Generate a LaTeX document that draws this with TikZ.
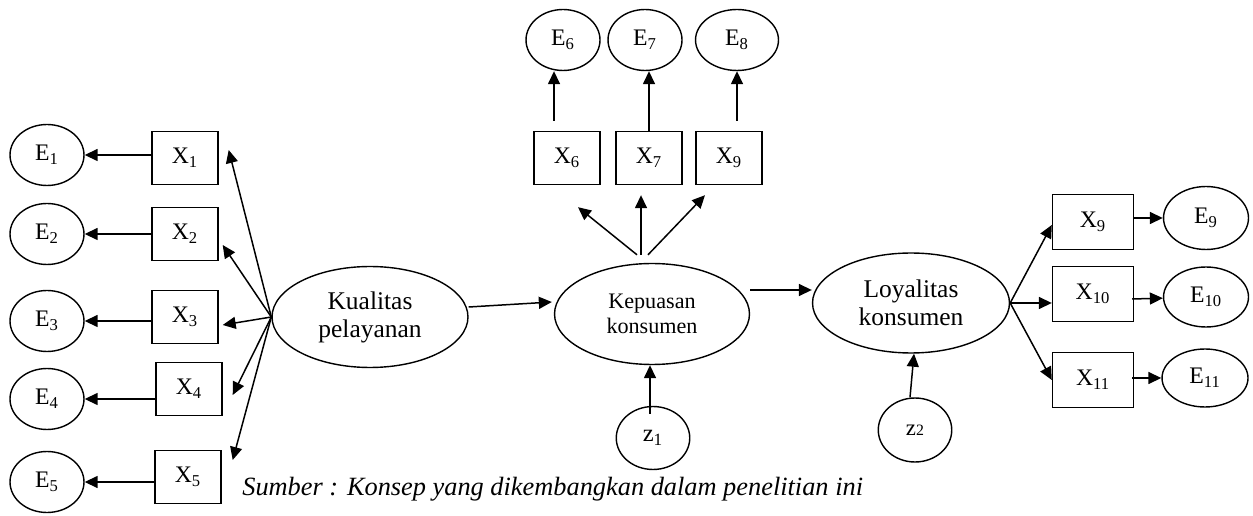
\documentclass[tikz,border=0pt]{standalone}
\usepackage{fontspec}
\setmainfont{Liberation Serif}
\usepackage{tikz}
\usetikzlibrary{shapes.geometric, calc, positioning}
\usetikzlibrary{arrows.meta}
\tikzset{>=stealth}

\begin{document}
\begin{tikzpicture}[x=0.02cm, y=-0.02cm,
		err/.style={draw, ellipse, line width=0.8pt, minimum width=1.48cm, minimum height=1.22cm, inner sep=0pt, font=\fontsize{13.5}{15}\selectfont},
		ind/.style={draw, rectangle, line width=0.8pt, minimum width=1.32cm, minimum height=1.06cm, inner sep=0pt, font=\fontsize{13.5}{15}\selectfont},
		lat/.style={draw, ellipse, line width=0.8pt, minimum width=3.92cm, minimum height=2.02cm, inner sep=0pt, align=center, font=\fontsize{14.5}{16}\selectfont},
		dist/.style={draw, ellipse, line width=0.8pt, minimum width=1.47cm, minimum height=1.26cm, inner sep=0pt, font=\fontsize{14}{16}\selectfont},
		arr/.style={-{Triangle[length=0.26cm,width=0.24cm]}, line width=0.85pt}]
			\useasboundingbox (0,0) rectangle (1253,516);
			\node[err] (E1) at (47,155) {E\textsubscript{1}};
			\node[err] (E2) at (47,234) {E\textsubscript{2}};
			\node[err] (E3) at (47,321) {E\textsubscript{3}};
			\node[err] (E4) at (47,399) {E\textsubscript{4}};
			\node[err] (E5) at (47,482) {E\textsubscript{5}};
			\node[ind] (X1) at (185,158) {X\textsubscript{1}};
			\node[ind] (X2) at (185,234) {X\textsubscript{2}};
			\node[ind] (X3) at (185,317) {X\textsubscript{3}};
			\node[ind] (X4) at (189,389) {X\textsubscript{4}};
			\node[ind] (X5) at (188,477) {X\textsubscript{5}};
			\node[lat] (kual) at (370,317) {Kualitas\\pelayanan};
			\draw[arr] (X1.west |- E1) -- (E1);
			\draw[arr] (X2.west |- E2) -- (E2);
			\draw[arr] (X3.west |- E3) -- (E3);
			\draw[arr] (X4.west |- E4) -- (E4);
			\draw[arr] (X5.west |- E5) -- (E5);
			\draw[arr] (kual.west) -- ($(X1.east)+(10,-8)$);
			\draw[arr] (kual.west) -- ($(X2.east)+(4,11)$);
			\draw[arr] (kual.west) -- ($(X3.east)+(4,8)$);
			\draw[arr] (kual.west) -- ($(X4.east)+(10,6)$);
			\draw[arr] (kual.west) -- ($(X5.east)+(11,-17)$);
			\node[err] (E6) at (563,40) {E\textsubscript{6}};
			\node[err] (E7) at (645,40) {E\textsubscript{7}};
			\node[err, minimum width=1.66cm] (E8) at (737,40) {E\textsubscript{8}};
			\node[ind] (X6) at (567,158) {X\textsubscript{6}};
			\node[ind] (X7) at (649,158) {X\textsubscript{7}};
			\node[ind] (X9t) at (729,158) {X\textsubscript{9}};
			\node[lat, minimum width=3.9cm, font=\fontsize{12.6}{14.5}\selectfont] (kep) at (652,314) {Kepuasan\\konsumen};
			\draw[arr] ($(X6.north -| E6.south)+(-9,-10)$) -- ($(E6.south)+(-9,0)$);
			\draw[arr] (X7.north) -- (X7.north |- E7.south);
			\draw[arr] ($(X9t.north -| E8.south)+(0,-10)$) -- (E8.south);
			\draw[arr] ($(kep.north)+(-15,-8)$) -- ($(X6.south)+(11,22)$);
			\draw[arr] ($(kep.north)+(-11,-8)$) -- ($(X7.south)+(-8,10)$);
			\draw[arr] ($(kep.north)+(-4,-8)$) -- ($(X9t.south)+(-24,10)$);
			\draw[arr] ($(kual.east)+(0,-10)$) -- ($(kep.west)+(-2,-12)$);
			\node[dist] (z1) at (653,438) {z\textsubscript{1}};
			\draw[arr] ($(z1.north)+(-3,8)$) -- ($(kep.south)+(-2,0)$);
			\node[lat, minimum width=3.94cm, minimum height=2cm] (loy) at (911,303) {Loyalitas\\konsumen};
			\draw[arr] ($(kep.east)+(0,-24)$) -- ($(loy.west)+(0,-13)$);
			\node[dist, minimum height=1.28cm, font=\fontsize{13}{15}\selectfont] (z2) at (915,430) {z{\fontsize{9}{10}\selectfont 2}};
			\draw[arr] ($(z2.north)+(-5,0)$) -- ($(loy.south)+(3,0)$);
			\node[ind, minimum width=1.62cm, minimum height=1.1cm] (X9) at (1093,222) {X\textsubscript{9}};
			\node[ind, minimum width=1.62cm, minimum height=1.1cm] (X10) at (1093,294) {X\textsubscript{10}};
			\node[ind, minimum width=1.62cm, minimum height=1.1cm] (X11) at (1093,380) {X\textsubscript{11}};
			\node[err, minimum width=1.7cm, minimum height=1.26cm] (E9) at (1206,218) {E\textsubscript{9}};
			\node[err, minimum width=1.7cm, minimum height=1.2cm] (E10) at (1206,297) {E\textsubscript{10}};
			\node[err, minimum width=1.72cm, minimum height=1.16cm] (E11) at (1205,378) {E\textsubscript{11}};
			\draw[arr] (loy.east) -- ($(X9.west)+(0,3)$);
			\draw[arr] (loy.east) -- (loy.east -| X10.west);
			\draw[arr] (loy.east) -- (X11.west);
			\draw[arr] (X9.east |- E9) -- (E9);
			\draw[arr] ($(X10.east |- E10)+(-2,2)$) -- (E10);
			\draw[arr] ($(X11.east |- E11)+(-2,0)$) -- (E11);
			\node[anchor=base west, inner sep=0pt, font=\itshape\fontsize{15}{17}\selectfont] (src) at (242,495) {Sumber : Konsep yang dikembangkan dalam penelitian ini};
		\end{tikzpicture}
\end{document}
